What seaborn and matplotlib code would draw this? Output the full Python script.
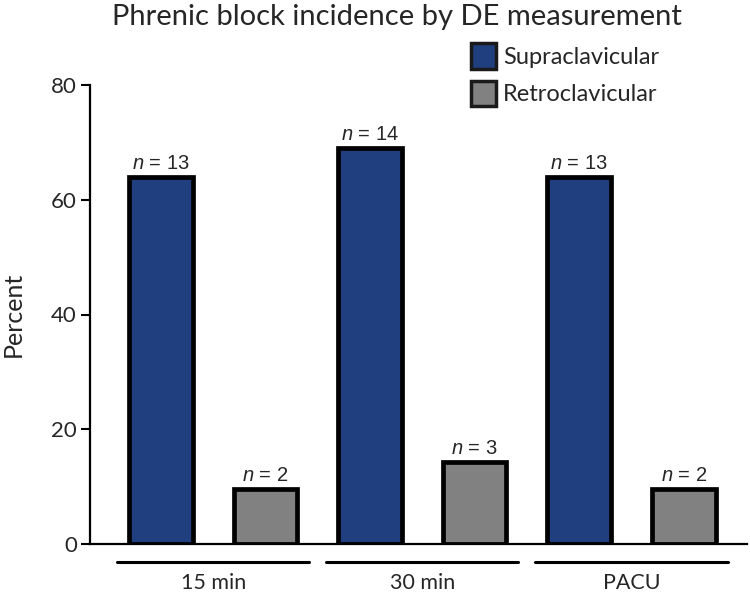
import pandas as pd
import matplotlib
matplotlib.use("Agg")
import matplotlib.pyplot as plt
import matplotlib.transforms as mtransforms
import seaborn as sns

# values
times = ["15 min", "30 min", "PACU"]
groups = ["Supraclavicular", "Retroclavicular"]
supra_pct = [64, 69, 64]
retro_pct = [9.5, 14.3, 9.5]
supra_n = [13, 14, 13]
retro_n = [2, 3, 2]

df = pd.DataFrame({
    "Time": times * 2,
    "Group": [groups[0]] * 3 + [groups[1]] * 3,
    "Percent": supra_pct + retro_pct,
})

sns.set_style("white")
plt.rcParams["font.family"] = ["Lato", "DejaVu Sans"]
plt.rcParams["mathtext.fontset"] = "custom"
plt.rcParams["mathtext.it"] = "Liberation Sans:italic"
plt.rcParams["mathtext.rm"] = "Liberation Sans"

fig = plt.figure(figsize=(7.5, 5.94), dpi=100)
ax = fig.add_axes([90 / 750, 1 - 544 / 594, (747 - 90) / 750, (544 - 85) / 594])

sns.barplot(data=df, x="Time", y="Percent", hue="Group", hue_order=groups,
            palette=["#1f3f7e", "#818181"], width=1.0, gap=0.39,
            edgecolor="black", linewidth=3.4, saturation=1, ax=ax)

ax.set_ylim(0, 80)
ax.set_xlim(-0.589, 2.553)
ax.set_yticks([0, 20, 40, 60, 80])
ax.tick_params(axis="y", left=True, length=6.5, width=1.5, labelsize=16, pad=3, color="black")
ax.tick_params(axis="x", length=0, labelsize=15.5, pad=21)
for s in ["top", "right"]:
    ax.spines[s].set_visible(False)
for s in ["left", "bottom"]:
    ax.spines[s].set_linewidth(1.6)
    ax.spines[s].set_color("black")

ax.set_xlabel("")
ax.set_ylabel("Percent", fontsize=18, va="center")
ax.yaxis.set_label_coords(-0.117, 0.5)

# n labels over bars
for cont, ns in zip(ax.containers, [supra_n, retro_n]):
    ax.bar_label(cont, labels=[f"$n$ = {n}" for n in ns], padding=3,
                 fontsize=14.5, family="Liberation Sans")

# group lines below the axis
trans = mtransforms.blended_transform_factory(ax.transData, ax.transAxes)
for i in range(len(times)):
    ax.plot([i - 0.46, i + 0.46], [-0.04, -0.04], color="black", lw=2.2,
            transform=trans, clip_on=False)

handles, labels = ax.get_legend_handles_labels()
for h in handles:
    h.set_edgecolor("#1a1a1a")
    h.set_linewidth(2.5)
ax.legend(handles, labels, loc="upper left", frameon=False, fontsize=17,
          bbox_to_anchor=(471 / 750, 1 - 43 / 594), bbox_transform=fig.transFigure,
          borderpad=0, handlelength=1.05, handleheight=1.3, handletextpad=0.3,
          labelspacing=0.5, borderaxespad=0)

fig.text(396.5 / 750, 1 - 25 / 594, "Phrenic block incidence by DE measurement",
         ha="center", va="baseline", fontsize=21)

fig.savefig("out.png", dpi=100)
